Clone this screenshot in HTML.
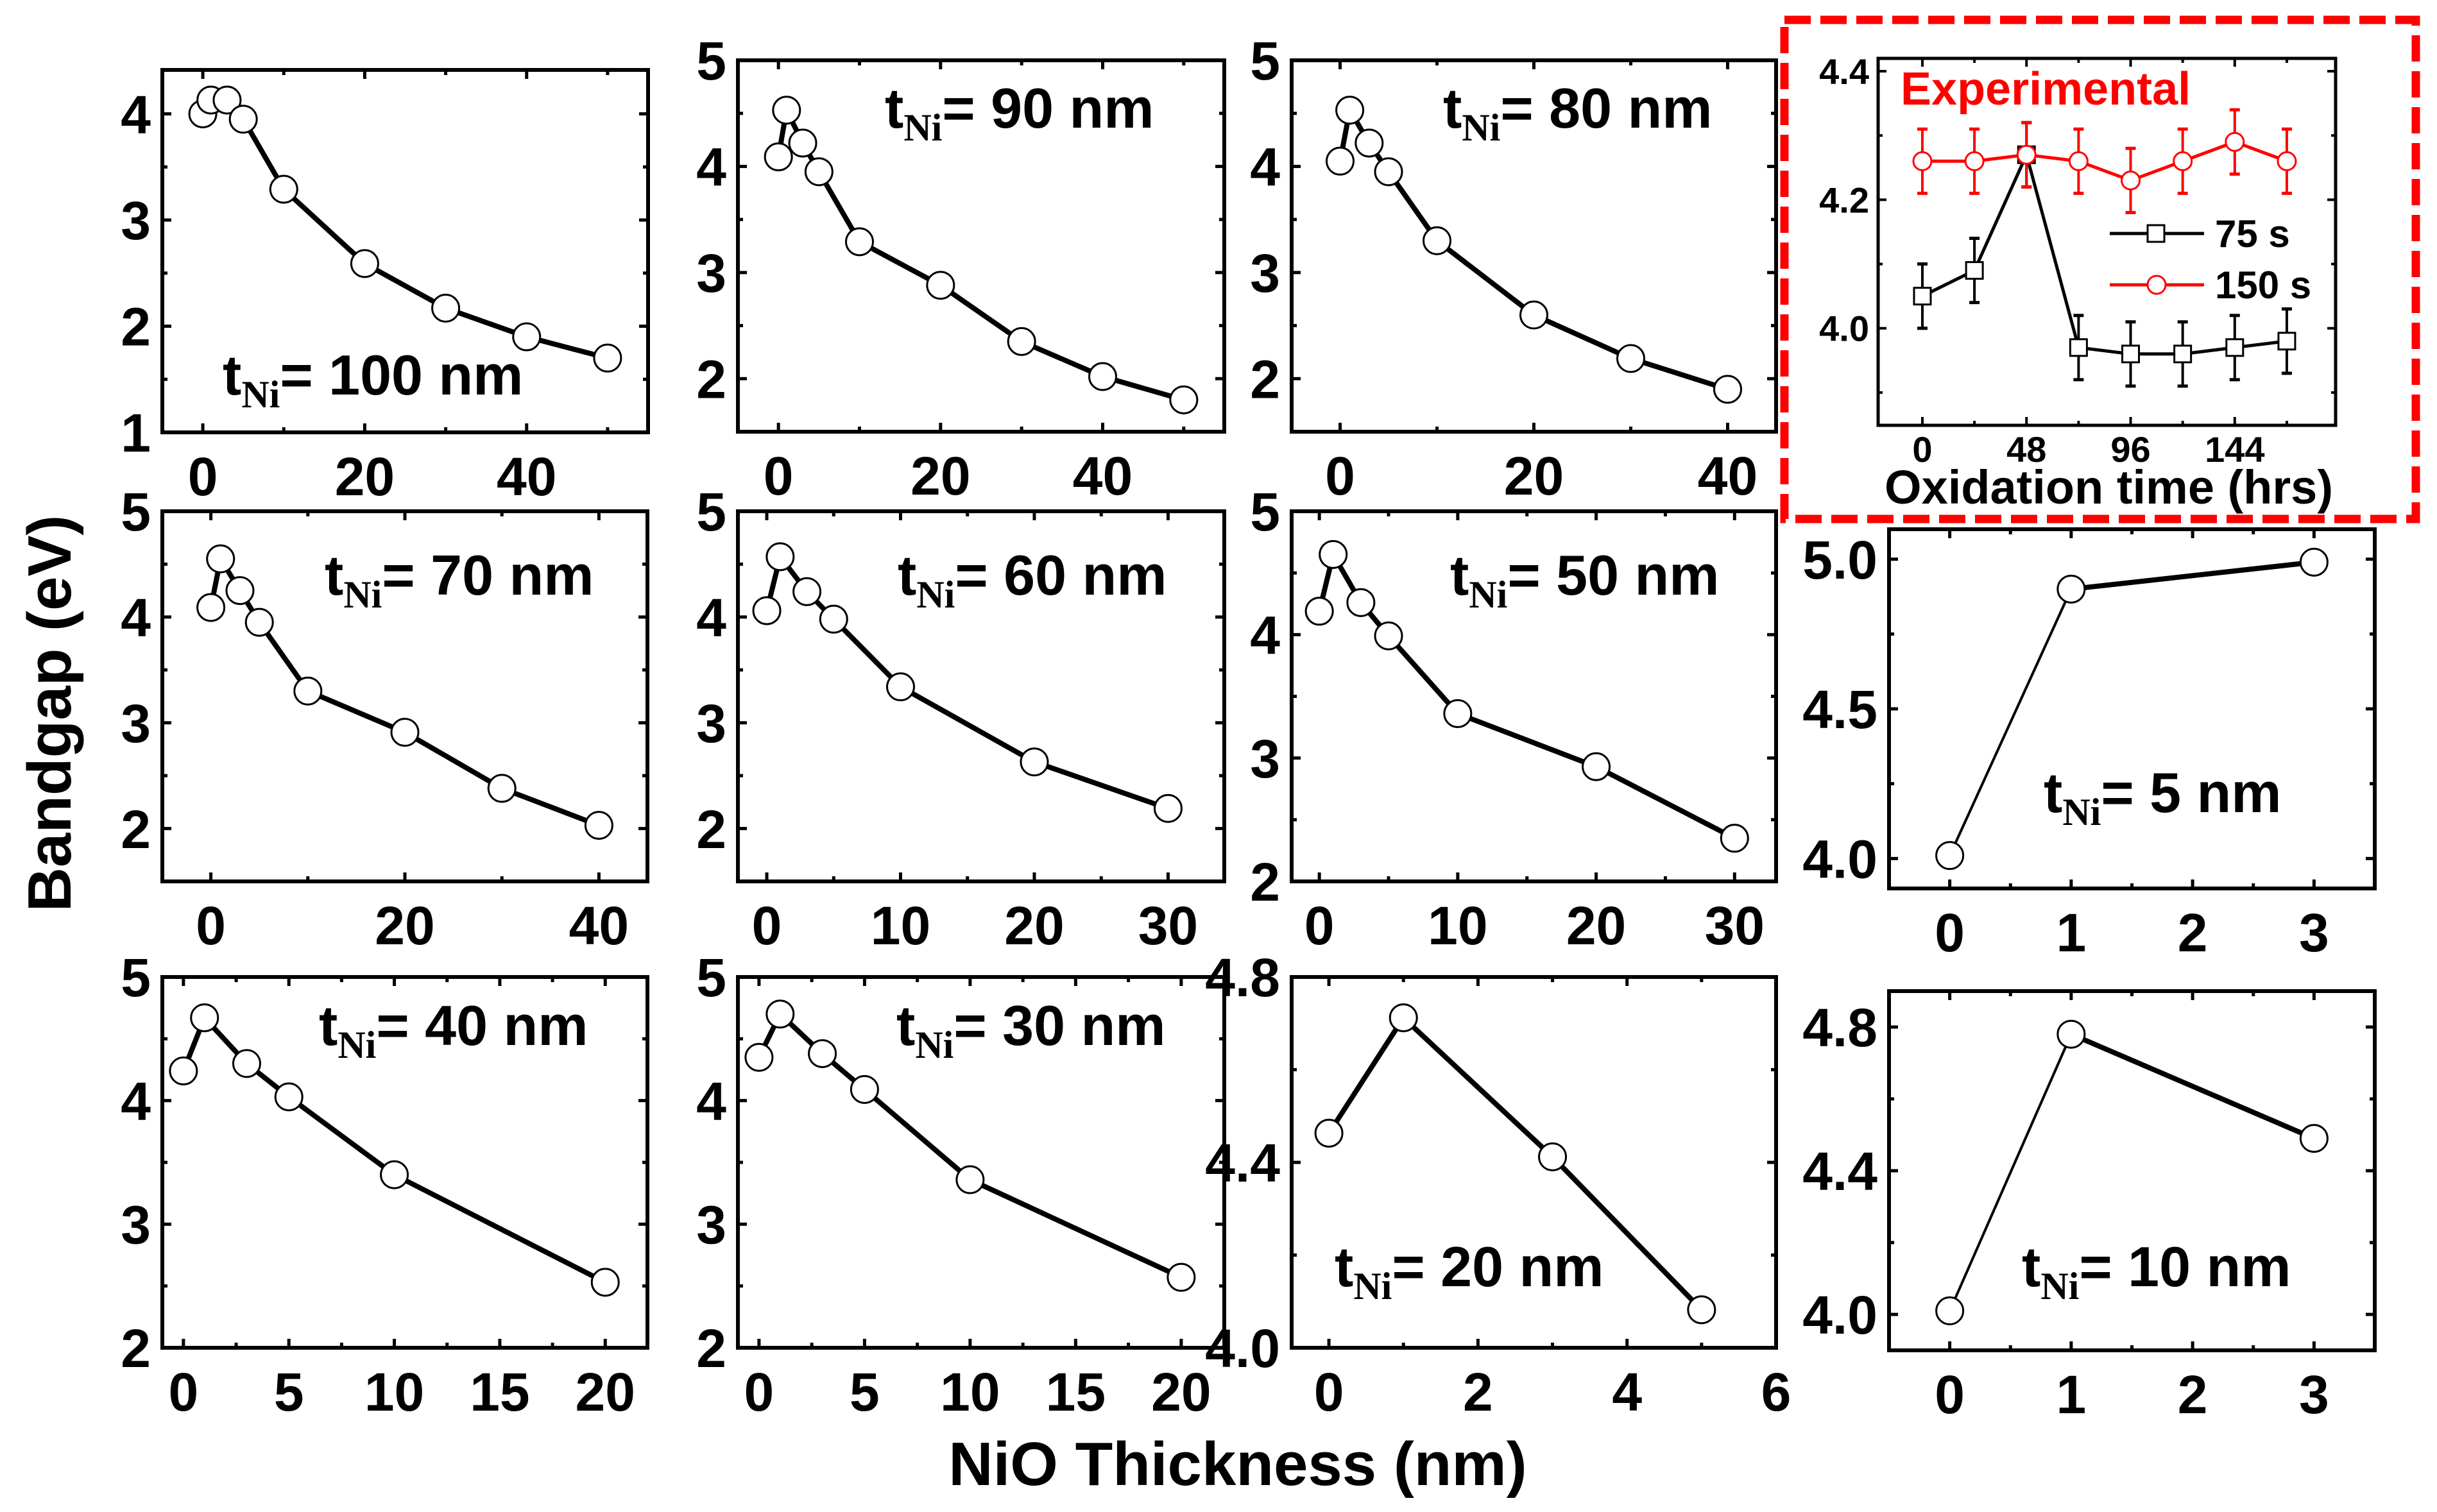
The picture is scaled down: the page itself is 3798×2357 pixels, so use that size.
<!DOCTYPE html>
<html><head><meta charset="utf-8"><style>
html,body{margin:0;padding:0;background:#fff;}
svg{display:block;}
text{font-family:"Liberation Sans",Arial,sans-serif;font-weight:bold;}
</style></head><body>
<svg id="fig" xmlns="http://www.w3.org/2000/svg" width="3798" height="2357" viewBox="0 0 3798 2357">
<rect x="0" y="0" width="3798" height="2357" fill="#fff"/>
<text transform="translate(110,1112) rotate(-90)" text-anchor="middle" font-size="96">Bandgap (eV)</text>
<text x="1929" y="2315" text-anchor="middle" font-size="96">NiO Thickness (nm)</text>
</svg>
<script>
// ---- data (NiO thickness nm vs bandgap eV) ----
const x100 = [0,1,3,5,10,20,30,40,50];
const y100 = [4.00,4.13,4.13,3.95,3.29,2.59,2.17,1.90,1.70];
const x90 = [0,1,3,5,10,20,30,40,50];
const y90 = [4.09,4.53,4.22,3.95,3.29,2.88,2.35,2.02,1.80];
const x80 = [0,1,3,5,10,20,30,40];
const y80 = [4.05,4.53,4.22,3.95,3.30,2.60,2.19,1.90];
const x70 = [0,1,3,5,10,20,30,40];
const y70 = [4.09,4.55,4.25,3.95,3.30,2.91,2.38,2.03];
const x60 = [0,1,3,5,10,20,30];
const y60 = [4.06,4.57,4.24,3.98,3.34,2.63,2.19];
const x50 = [0,1,3,5,10,20,30];
const y50 = [4.19,4.65,4.26,3.99,3.36,2.93,2.35];
const x5 = [0,1,3];
const y5 = [4.01,4.90,4.99];
const x40 = [0,1,3,5,10,20];
const y40 = [4.24,4.67,4.30,4.03,3.40,2.53];
const x30 = [0,1,3,5,10,20];
const y30 = [4.35,4.70,4.38,4.09,3.36,2.57];
const x20 = [0,1,3,5];
const y20 = [4.463,4.712,4.412,4.082];
const x10 = [0,1,3];
const y10 = [4.01,4.78,4.49];
// inset data
const hrs = [0,24,48,72,96,120,144,168];
const bg75 = [4.05,4.09,4.27,3.97,3.96,3.96,3.97,3.98];
const err75 = [0.05,0.05,0.05,0.05,0.05,0.05,0.05,0.05];
const bg150 = [4.26,4.26,4.27,4.26,4.23,4.26,4.29,4.26];
const err150 = [0.05,0.05,0.05,0.05,0.05,0.05,0.05,0.05];
const insetXTicks = ["0","48","96","144"];
const insetYTicks = ["4.0","4.2","4.4"];

const NS="http://www.w3.org/2000/svg";
const svg=document.getElementById('fig');
function mk(tag,attrs,parent){const e=document.createElementNS(NS,tag);for(const k in attrs)e.setAttribute(k,attrs[k]);(parent||svg).appendChild(e);return e;}

const panels=[
 {id:'100',xs:x100,ys:y100,L:253,R:1010,T:109,B:674,xr:[-5,55],yr:[1,4.414],xt:[0,20,40],xm:10,yt:[1,2,3,4],ym:0.5,yd:0,lab:[347,615],n:'100',thin:false},
 {id:'90',xs:x90,ys:y90,L:1150,R:1908,T:94,B:673,xr:[-5,55],yr:[1.5,5],xt:[0,20,40],xm:10,yt:[2,3,4,5],ym:0.5,yd:0,lab:[1379,199],n:'90'},
 {id:'80',xs:x80,ys:y80,L:2013,R:2768,T:94,B:673,xr:[-5,45],yr:[1.5,5],xt:[0,20,40],xm:10,yt:[2,3,4,5],ym:0.5,yd:0,lab:[2249,199],n:'80'},
 {id:'70',xs:x70,ys:y70,L:253,R:1009,T:797,B:1374,xr:[-5,45],yr:[1.5,5],xt:[0,20,40],xm:10,yt:[2,3,4,5],ym:0.5,yd:0,lab:[506,927],n:'70'},
 {id:'60',xs:x60,ys:y60,L:1150,R:1908,T:797,B:1374,xr:[-2.16,34.2],yr:[1.5,5],xt:[0,10,20,30],xm:5,yt:[2,3,4,5],ym:0.5,yd:0,lab:[1399,927],n:'60'},
 {id:'50',xs:x50,ys:y50,L:2013,R:2768,T:797,B:1374,xr:[-2,33],yr:[2,5],xt:[0,10,20,30],xm:5,yt:[2,3,4,5],ym:0.5,yd:0,lab:[2260,927],n:'50'},
 {id:'5',xs:x5,ys:y5,L:2944,R:3701,T:825,B:1385,xr:[-0.5,3.5],yr:[3.9,5.1],xt:[0,1,2,3],xm:0.5,yt:[4.0,4.5,5.0],ym:0.25,yd:1,lab:[3185,1266],n:'5',thin:true},
 {id:'40',xs:x40,ys:y40,L:253,R:1009,T:1523,B:2101,xr:[-1,22],yr:[2,5],xt:[0,5,10,15,20],xm:2.5,yt:[2,3,4,5],ym:0.5,yd:0,lab:[497,1629],n:'40'},
 {id:'30',xs:x30,ys:y30,L:1150,R:1908,T:1523,B:2101,xr:[-1,22.04],yr:[2,5],xt:[0,5,10,15,20],xm:2.5,yt:[2,3,4,5],ym:0.5,yd:0,lab:[1397,1629],n:'30'},
 {id:'20',xs:x20,ys:y20,L:2013,R:2768,T:1523,B:2101,xr:[-0.5,6],yr:[4.0,4.8],xt:[0,2,4,6],xm:1,yt:[4.0,4.4,4.8],ym:0.2,yd:1,lab:[2080,2005],n:'20'},
 {id:'10',xs:x10,ys:y10,L:2944,R:3701,T:1545,B:2105,xr:[-0.5,3.5],yr:[3.9,4.9],xt:[0,1,2,3],xm:0.5,yt:[4.0,4.4,4.8],ym:0.2,yd:1,lab:[3151,2005],n:'10',thin:true}
];

function drawPanel(p){
  const g=mk('g',{});
  
  
  const sx=v=>p.L+(v-p.xr[0])/(p.xr[1]-p.xr[0])*(p.R-p.L);
  const sy=v=>p.B-(v-p.yr[0])/(p.yr[1]-p.yr[0])*(p.B-p.T);
  const fs=84;
  // x ticks
  for(let v=Math.ceil((p.xr[0]-1e-9)/p.xm)*p.xm; v<=p.xr[1]+1e-9; v+=p.xm){
    const major=p.xt.some(t=>Math.abs(t-v)<1e-6);
    const len=major?14:8, X=sx(v);
    mk('line',{x1:X,x2:X,y1:p.B,y2:p.B-len,stroke:'#000','stroke-width':5},g);
    mk('line',{x1:X,x2:X,y1:p.T,y2:p.T+len,stroke:'#000','stroke-width':5},g);
  }
  for(let v=Math.ceil((p.yr[0]-1e-9)/p.ym)*p.ym; v<=p.yr[1]+1e-9; v+=p.ym){
    const major=p.yt.some(t=>Math.abs(t-v)<1e-6);
    const len=major?14:8, Y=sy(v);
    mk('line',{x1:p.L,x2:p.L+len,y1:Y,y2:Y,stroke:'#000','stroke-width':5},g);
    mk('line',{x1:p.R,x2:p.R-len,y1:Y,y2:Y,stroke:'#000','stroke-width':5},g);
  }
  const box=mk('rect',{x:p.L,y:p.T,width:p.R-p.L,height:p.B-p.T,fill:'none',stroke:'#000','stroke-width':6},g);
  
  
  p.xt.forEach(v=>{
    const t=mk('text',{x:sx(v),y:p.B+68+fs*0.36,'text-anchor':'middle','font-size':fs},g);
    
    
    t.textContent=String(v);
  });
  p.yt.forEach(v=>{
    const t=mk('text',{x:p.L-18,y:sy(v)+fs*0.36,'text-anchor':'end','font-size':fs},g);
    
    
    t.textContent=v.toFixed(p.yd);
  });
  // line
  for(let i=0;i<p.xs.length-1;i++){
    const w=(p.thin&&i===0)?4:8;
    const seg=mk('line',{x1:sx(p.xs[i]),y1:sy(p.ys[i]),x2:sx(p.xs[i+1]),y2:sy(p.ys[i+1]),stroke:'#000','stroke-width':w},g);
    
    
  }
  for(let i=0;i<p.xs.length;i++){
    const c=mk('circle',{cx:sx(p.xs[i]),cy:sy(p.ys[i]),r:21,fill:'#fff',stroke:'#000','stroke-width':3},g);
    
    
  }
  const lab=mk('text',{x:p.lab[0],y:p.lab[1],'font-size':88},g);
  
  
  const t1=mk('tspan',{},lab); t1.textContent='t';
  const t2=mk('tspan',{dy:20,'font-size':60,'font-family':'"Liberation Serif",serif'},lab); t2.textContent='Ni';
  const t3=mk('tspan',{dy:-20},lab); t3.textContent='= '+p.n+' nm';
}
panels.forEach(drawPanel);

// ---- inset ----
(function(){
  const L=2927,R=3640,T=91,B=663, xr=[-20.4,190.5], yr=[3.849,4.42];
  const sx=v=>L+(v-xr[0])/(xr[1]-xr[0])*(R-L);
  const sy=v=>B-(v-yr[0])/(yr[1]-yr[0])*(B-T);
  const g=mk('g',{});
  
  
  const frame=mk('rect',{x:2781,y:31,width:3765-2781,height:809-31,fill:'none',stroke:'#f00','stroke-width':13,'stroke-dasharray':'41 15'},g);
  
  
  for(let v=0; v<=168; v+=24){
    const major=v%48===0, len=major?13:7;
    mk('line',{x1:sx(v),x2:sx(v),y1:B,y2:B-len,stroke:'#000','stroke-width':4},g);
    mk('line',{x1:sx(v),x2:sx(v),y1:T,y2:T+len,stroke:'#000','stroke-width':4},g);
  }
  for(let k=39;k<=44;k++){
    const v=k/10, major=k%2===0, len=major?13:7;
    mk('line',{x1:L,x2:L+len,y1:sy(v),y2:sy(v),stroke:'#000','stroke-width':4},g);
    mk('line',{x1:R,x2:R-len,y1:sy(v),y2:sy(v),stroke:'#000','stroke-width':4},g);
  }
  mk('rect',{x:L,y:T,width:R-L,height:B-T,fill:'none',stroke:'#000','stroke-width':5},g);
  insetXTicks.forEach(s=>{
    const t=mk('text',{x:sx(parseFloat(s)),y:700+20,'text-anchor':'middle','font-size':56},g);
    
    
    t.textContent=s;
  });
  insetYTicks.forEach(s=>{
    const t=mk('text',{x:L-14,y:sy(parseFloat(s))+20,'text-anchor':'end','font-size':56},g);
    
    
    t.textContent=s;
  });
  const xt=mk('text',{x:(L+R)/2+3,y:785,'text-anchor':'middle','font-size':74},g);
  
  
  xt.textContent='Oxidation time (hrs)';
  const ex=mk('text',{x:2962,y:163,'font-size':72,fill:'#f00'},g);
  
  
  ex.textContent='Experimental';
  function series(ys,es,color,shape,name){
    const sg=mk('g',{},g);
    
    
    for(let i=0;i<hrs.length-1;i++){
      mk('line',{x1:sx(hrs[i]),y1:sy(ys[i]),x2:sx(hrs[i+1]),y2:sy(ys[i+1]),stroke:color,'stroke-width':5},sg);
    }
    for(let i=0;i<hrs.length;i++){
      const X=sx(hrs[i]), y1=sy(ys[i]+es[i]), y2=sy(ys[i]-es[i]);
      mk('line',{x1:X,x2:X,y1:y1,y2:y2,stroke:color,'stroke-width':4},sg);
      mk('line',{x1:X-8,x2:X+8,y1:y1,y2:y1,stroke:color,'stroke-width':5},sg);
      mk('line',{x1:X-8,x2:X+8,y1:y2,y2:y2,stroke:color,'stroke-width':5},sg);
    }
    for(let i=0;i<hrs.length;i++){
      const X=sx(hrs[i]), Y=sy(ys[i]);
      let m;
      if(shape==='sq') m=mk('rect',{x:X-13,y:Y-13,width:26,height:26,fill:'#fff',stroke:color,'stroke-width':3},sg);
      else m=mk('circle',{cx:X,cy:Y,r:14,fill:'#fff',stroke:color,'stroke-width':3},sg);
      
      
    }
  }
  series(bg75,err75,'#000','sq','series-75s');
  series(bg150,err150,'#f00','ci','series-150s');
  // legend
  const lg=mk('g',{},g);
  
  
  mk('line',{x1:3288,x2:3435,y1:364,y2:364,stroke:'#000','stroke-width':5},lg);
  mk('rect',{x:3347,y:351,width:26,height:26,fill:'#fff',stroke:'#000','stroke-width':3},lg);
  const l1=mk('text',{x:3452,y:385,'font-size':60},lg); l1.textContent='75 s';
  
  
  mk('line',{x1:3288,x2:3435,y1:444,y2:444,stroke:'#f00','stroke-width':5},lg);
  mk('circle',{cx:3361,cy:444,r:14,fill:'#fff',stroke:'#f00','stroke-width':3},lg);
  const l2=mk('text',{x:3452,y:465,'font-size':60},lg); l2.textContent='150 s';
  
  
})();
</script>
</body></html>
